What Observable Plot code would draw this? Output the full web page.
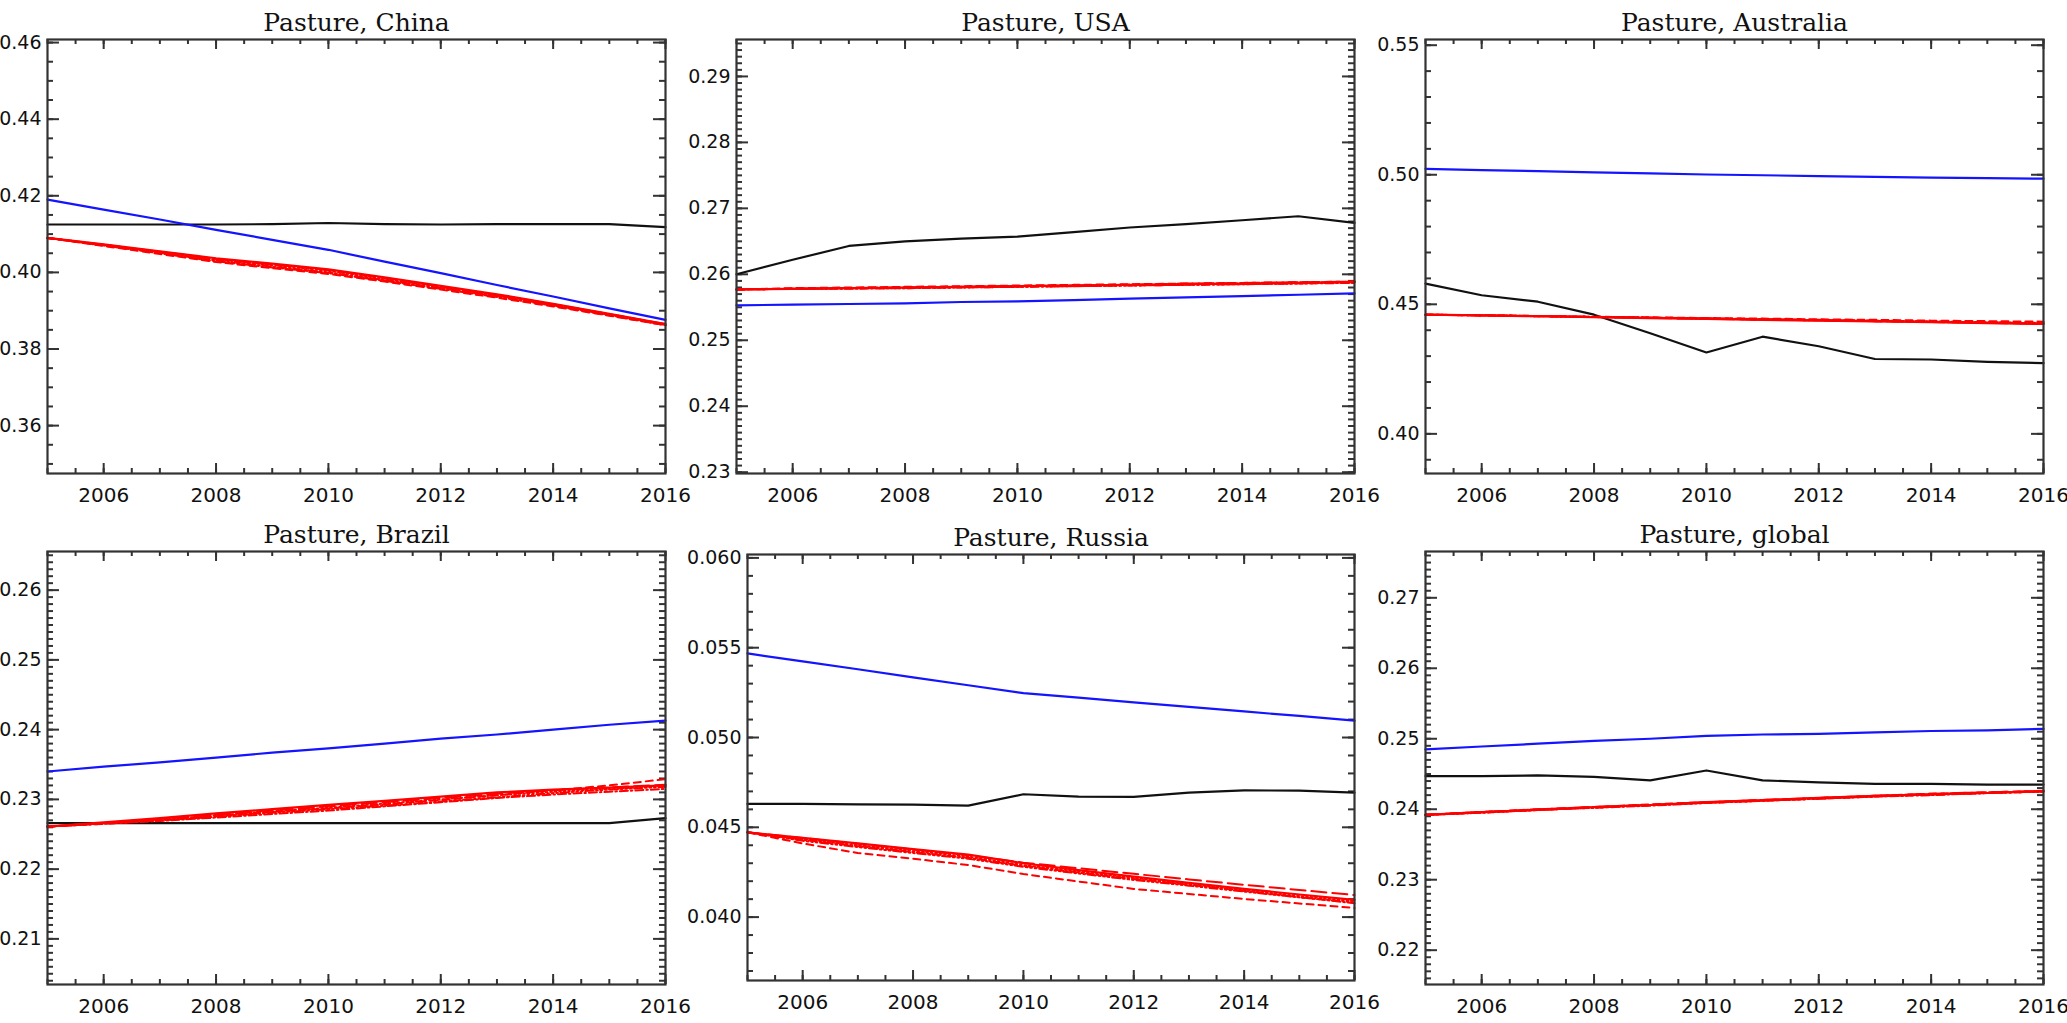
<!DOCTYPE html>
<html>
<head>
<meta charset="utf-8">
<script src="https://cdn.jsdelivr.net/npm/d3@7"></script>
<script src="https://cdn.jsdelivr.net/npm/@observablehq/plot@0.6"></script>
<style>
  body { margin: 0; background: white; }
  #chart { position: relative; width: 2067px; height: 1023px; background: white; }
  #chart svg { position: absolute; }
</style>
</head>
<body>
<div id="chart"></div>
<script>
const years = [2005, 2006, 2007, 2008, 2009, 2010, 2011, 2012, 2013, 2014, 2015, 2016]
const xMajor = [2006, 2008, 2010, 2012, 2014, 2016]

// black = observed, blue = reference run, red = 6 ensemble variants (solid, dotted, dashed, dash-dot, dash-3dot, long dash)
const chinaObs = [0.4125, 0.4125, 0.4125, 0.4125, 0.4126, 0.4129, 0.4126, 0.4125, 0.4126, 0.4126, 0.4126, 0.4118]
const chinaBlue = [0.4190, 0.4164, 0.4138, 0.4111, 0.4085, 0.4059, 0.4028, 0.3998, 0.3967, 0.3937, 0.3906, 0.3876]
const chinaRed = [
  [0.4090, 0.4073, 0.4055, 0.4037, 0.4023, 0.4008, 0.3987, 0.3965, 0.3943, 0.3918, 0.3892, 0.3865],
  [0.4090, 0.4072, 0.4053, 0.4034, 0.4019, 0.4004, 0.3983, 0.3962, 0.3940, 0.3916, 0.3891, 0.3864],
  [0.4090, 0.4069, 0.4048, 0.4027, 0.4011, 0.3996, 0.3976, 0.3955, 0.3934, 0.3911, 0.3887, 0.3862],
  [0.4090, 0.4071, 0.4051, 0.4031, 0.4015, 0.4000, 0.3980, 0.3959, 0.3938, 0.3914, 0.3889, 0.3863],
  [0.4090, 0.4070, 0.4050, 0.4029, 0.4013, 0.3998, 0.3978, 0.3957, 0.3936, 0.3913, 0.3888, 0.3862],
  [0.4090, 0.4072, 0.4054, 0.4035, 0.4020, 0.4006, 0.3985, 0.3963, 0.3941, 0.3917, 0.3891, 0.3865]
]

const usaObs = [0.2600, 0.2622, 0.2643, 0.2650, 0.2654, 0.2657, 0.2664, 0.2671, 0.2676, 0.2682, 0.2688, 0.2678]
const usaBlue = [0.2553, 0.2554, 0.2555, 0.2556, 0.2558, 0.2559, 0.2561, 0.2563, 0.2565, 0.2567, 0.2569, 0.2571]
const usaRed = [
  [0.2577, 0.2578, 0.2579, 0.2580, 0.2581, 0.2582, 0.2583, 0.2584, 0.2585, 0.2586, 0.2587, 0.2588],
  [0.2577, 0.2578, 0.2579, 0.2580, 0.2581, 0.2582, 0.2583, 0.2584, 0.2585, 0.2586, 0.2587, 0.2589],
  [0.2577, 0.2579, 0.2580, 0.2581, 0.2582, 0.2583, 0.2584, 0.2585, 0.2586, 0.2587, 0.2588, 0.2589],
  [0.2577, 0.2578, 0.2578, 0.2579, 0.2580, 0.2581, 0.2582, 0.2583, 0.2584, 0.2585, 0.2586, 0.2587],
  [0.2577, 0.2578, 0.2579, 0.2579, 0.2580, 0.2581, 0.2582, 0.2583, 0.2584, 0.2585, 0.2586, 0.2588],
  [0.2577, 0.2578, 0.2579, 0.2580, 0.2581, 0.2582, 0.2583, 0.2584, 0.2586, 0.2587, 0.2588, 0.2589]
]

const ausObs = [0.4580, 0.4535, 0.4510, 0.4460, 0.4388, 0.4314, 0.4375, 0.4338, 0.4289, 0.4287, 0.4278, 0.4273]
const ausBlue = [0.5023, 0.5018, 0.5014, 0.5009, 0.5005, 0.5001, 0.4998, 0.4995, 0.4992, 0.4989, 0.4987, 0.4985]
const ausRed = [
  [0.4460, 0.4457, 0.4454, 0.4450, 0.4447, 0.4444, 0.4440, 0.4437, 0.4434, 0.4431, 0.4427, 0.4424],
  [0.4460, 0.4457, 0.4454, 0.4451, 0.4448, 0.4445, 0.4442, 0.4439, 0.4436, 0.4433, 0.4430, 0.4427],
  [0.4460, 0.4458, 0.4455, 0.4452, 0.4450, 0.4447, 0.4445, 0.4442, 0.4440, 0.4437, 0.4435, 0.4433],
  [0.4460, 0.4457, 0.4454, 0.4451, 0.4448, 0.4445, 0.4441, 0.4438, 0.4435, 0.4432, 0.4429, 0.4426],
  [0.4460, 0.4458, 0.4455, 0.4452, 0.4449, 0.4446, 0.4443, 0.4440, 0.4437, 0.4434, 0.4431, 0.4428],
  [0.4460, 0.4457, 0.4454, 0.4451, 0.4447, 0.4444, 0.4441, 0.4438, 0.4435, 0.4432, 0.4428, 0.4425]
]

const brazilObs = [0.2266, 0.2266, 0.2266, 0.2266, 0.2266, 0.2266, 0.2266, 0.2266, 0.2266, 0.2266, 0.2266, 0.2273]
const brazilBlue = [0.2340, 0.2347, 0.2353, 0.2360, 0.2367, 0.2373, 0.2380, 0.2387, 0.2393, 0.2400, 0.2407, 0.2413]
const brazilRed = [
  [0.2261, 0.2267, 0.2273, 0.2280, 0.2286, 0.2292, 0.2298, 0.2304, 0.2310, 0.2314, 0.2317, 0.2320],
  [0.2261, 0.2266, 0.2271, 0.2277, 0.2283, 0.2288, 0.2294, 0.2300, 0.2306, 0.2311, 0.2315, 0.2319],
  [0.2261, 0.2265, 0.2270, 0.2276, 0.2282, 0.2287, 0.2293, 0.2299, 0.2306, 0.2313, 0.2320, 0.2329],
  [0.2261, 0.2265, 0.2269, 0.2274, 0.2279, 0.2284, 0.2290, 0.2296, 0.2302, 0.2307, 0.2311, 0.2315],
  [0.2261, 0.2266, 0.2270, 0.2275, 0.2281, 0.2286, 0.2291, 0.2297, 0.2303, 0.2309, 0.2314, 0.2318],
  [0.2261, 0.2266, 0.2272, 0.2278, 0.2284, 0.2290, 0.2296, 0.2302, 0.2308, 0.2313, 0.2317, 0.2321]
]

const russiaObs = [0.04630, 0.04630, 0.04628, 0.04626, 0.04621, 0.04684, 0.04671, 0.04669, 0.04693, 0.04706, 0.04704, 0.04693]
const russiaBlue = [0.05468, 0.05424, 0.05380, 0.05335, 0.05291, 0.05247, 0.05222, 0.05196, 0.05171, 0.05145, 0.05120, 0.05094]
const russiaRed = [
  [0.04472, 0.04441, 0.04410, 0.04379, 0.04348, 0.04300, 0.04262, 0.04225, 0.04191, 0.04157, 0.04126, 0.04096],
  [0.04472, 0.04435, 0.04400, 0.04368, 0.04337, 0.04290, 0.04254, 0.04218, 0.04185, 0.04151, 0.04118, 0.04088],
  [0.04472, 0.04410, 0.04357, 0.04325, 0.04290, 0.04240, 0.04198, 0.04157, 0.04129, 0.04101, 0.04076, 0.04051],
  [0.04472, 0.04430, 0.04395, 0.04362, 0.04330, 0.04285, 0.04248, 0.04212, 0.04180, 0.04146, 0.04111, 0.04077],
  [0.04472, 0.04425, 0.04390, 0.04357, 0.04325, 0.04280, 0.04243, 0.04207, 0.04175, 0.04142, 0.04110, 0.04082],
  [0.04472, 0.04440, 0.04408, 0.04376, 0.04344, 0.04303, 0.04272, 0.04241, 0.04210, 0.04180, 0.04151, 0.04123]
]

const globalObs = [0.2447, 0.2447, 0.2448, 0.2446, 0.2441, 0.2455, 0.2441, 0.2438, 0.2436, 0.2436, 0.2435, 0.2435]
const globalBlue = [0.2485, 0.2489, 0.2493, 0.2497, 0.2500, 0.2504, 0.2506, 0.2507, 0.2509, 0.2511, 0.2512, 0.2514]
const globalRed = [
  [0.2392, 0.2396, 0.2399, 0.2403, 0.2406, 0.2410, 0.2413, 0.2416, 0.2419, 0.2421, 0.2423, 0.2426],
  [0.2392, 0.2395, 0.2399, 0.2402, 0.2406, 0.2409, 0.2412, 0.2415, 0.2418, 0.2421, 0.2423, 0.2425],
  [0.2392, 0.2396, 0.2400, 0.2403, 0.2407, 0.2410, 0.2413, 0.2416, 0.2419, 0.2422, 0.2424, 0.2426],
  [0.2392, 0.2395, 0.2399, 0.2402, 0.2405, 0.2409, 0.2412, 0.2415, 0.2418, 0.2420, 0.2423, 0.2425],
  [0.2392, 0.2396, 0.2399, 0.2403, 0.2406, 0.2409, 0.2412, 0.2415, 0.2418, 0.2421, 0.2423, 0.2425],
  [0.2392, 0.2396, 0.2400, 0.2403, 0.2406, 0.2410, 0.2413, 0.2416, 0.2419, 0.2422, 0.2424, 0.2426]
]

const redDash = [null, "1.5,3", "7,5", "8,3,1.5,3", "8,3,1.5,3,1.5,3,1.5,3", "15,6"]

const panels = [
  {title: "Pasture, China", obs: chinaObs, blue: chinaBlue, red: chinaRed,
   y: [0.3475, 0.4608], yMajor: [0.36, 0.38, 0.40, 0.42, 0.44, 0.46], yMinor: 0.005, fmt: ".2f",
   left: 0, top: 0, w: 690, h: 511, ml: 47, mr: 25, mt: 39, mb: 38},
  {title: "Pasture, USA", obs: usaObs, blue: usaBlue, red: usaRed,
   y: [0.2298, 0.2956], yMajor: [0.23, 0.24, 0.25, 0.26, 0.27, 0.28, 0.29], yMinor: 0.001, fmt: ".2f",
   left: 690, top: 0, w: 690, h: 511, ml: 46, mr: 26, mt: 39, mb: 38},
  {title: "Pasture, Australia", obs: ausObs, blue: ausBlue, red: ausRed,
   y: [0.3847, 0.5522], yMajor: [0.40, 0.45, 0.50, 0.55], yMinor: 0.01, fmt: ".2f",
   left: 1380, top: 0, w: 687, h: 511, ml: 45, mr: 24, mt: 39, mb: 38},
  {title: "Pasture, Brazil", obs: brazilObs, blue: brazilBlue, red: brazilRed,
   y: [0.20346, 0.26554], yMajor: [0.21, 0.22, 0.23, 0.24, 0.25, 0.26], yMinor: 0.001, fmt: ".2f",
   left: 0, top: 511, w: 690, h: 512, ml: 47, mr: 25, mt: 40, mb: 39},
  {title: "Pasture, Russia", obs: russiaObs, blue: russiaBlue, red: russiaRed,
   y: [0.03647, 0.06019], yMajor: [0.040, 0.045, 0.050, 0.055, 0.060], yMinor: 0.001, fmt: ".3f",
   left: 690, top: 511, w: 690, h: 512, ml: 57, mr: 26, mt: 43, mb: 43},
  {title: "Pasture, global", obs: globalObs, blue: globalBlue, red: globalRed,
   y: [0.21513, 0.27657], yMajor: [0.22, 0.23, 0.24, 0.25, 0.26, 0.27], yMinor: 0.001, fmt: ".2f",
   left: 1380, top: 511, w: 687, h: 512, ml: 45, mr: 24, mt: 40, mb: 39}
]

const rows = arr => years.map((year, i) => ({year, value: arr[i]}))
const axisColor = "#333"

panels.forEach(p => {
  const fw = p.w - p.ml - p.mr
  const fh = p.h - p.mt - p.mb
  const xMinor = d3.range(2005, 2016.01, 0.5)
  const yMinor = d3.range(Math.ceil(p.y[0] / p.yMinor - 1e-6), Math.floor(p.y[1] / p.yMinor + 1e-6) + 1)
    .map(i => +(i * p.yMinor).toFixed(4))

  const tickStyle = {stroke: axisColor, strokeWidth: 2}

  let chart = Plot.plot({
    width: p.w,
    height: p.h,
    marginLeft: p.ml,
    marginRight: p.mr,
    marginTop: p.mt,
    marginBottom: p.mb,
    style: {background: "transparent", overflow: "visible", fontFamily: "DejaVu Sans", fontSize: "19px", color: "#111"},
    x: {domain: [2005, 2016]},
    y: {domain: p.y},
    marks: [
      // IDL style inward ticks on all four sides
      Plot.tickX(xMinor, {x: d => d, insetTop: fh - 5, ...tickStyle}),
      Plot.tickX(xMinor, {x: d => d, insetBottom: fh - 5, ...tickStyle}),
      Plot.tickX(xMajor, {x: d => d, insetTop: fh - 10, ...tickStyle}),
      Plot.tickX(xMajor, {x: d => d, insetBottom: fh - 10, ...tickStyle}),
      Plot.tickY(yMinor, {y: d => d, insetRight: fw - 6, ...tickStyle}),
      Plot.tickY(yMinor, {y: d => d, insetLeft: fw - 6, ...tickStyle}),
      Plot.tickY(p.yMajor, {y: d => d, insetRight: fw - 12, ...tickStyle}),
      Plot.tickY(p.yMajor, {y: d => d, insetLeft: fw - 12, ...tickStyle}),
      Plot.axisX(xMajor, {tickSize: 0, tickPadding: 14, tickFormat: d => String(d), fontSize: 20, label: null}),
      Plot.axisY(p.yMajor, {tickSize: 0, tickPadding: 6, tickFormat: d3.format(p.fmt), fontSize: 19, label: null}),
      Plot.line(rows(p.obs), {x: "year", y: "value", stroke: "#111", strokeWidth: 2.2}),
      Plot.line(rows(p.blue), {x: "year", y: "value", stroke: "#1414ff", strokeWidth: 2.2}),
      ...p.red.slice(1).map((arr, i) =>
        Plot.line(rows(arr), {x: "year", y: "value", stroke: "#ff0000", strokeWidth: 2, strokeDasharray: redDash[i + 1]})),
      Plot.line(rows(p.red[0]), {x: "year", y: "value", stroke: "#ff0000", strokeWidth: 2.2}),
      Plot.frame({stroke: axisColor, strokeWidth: 2.2}),
      Plot.text([p.title], {text: d => d, frameAnchor: "top", lineAnchor: "bottom", dy: -9,
        fontFamily: "DejaVu Serif", fontSize: 25, fill: "#111"})
    ]
  })

  chart.style.left = p.left + "px"
  chart.style.top = p.top + "px"
  d3.select('#chart').append(() => chart)
})
</script>
</body>
</html>
